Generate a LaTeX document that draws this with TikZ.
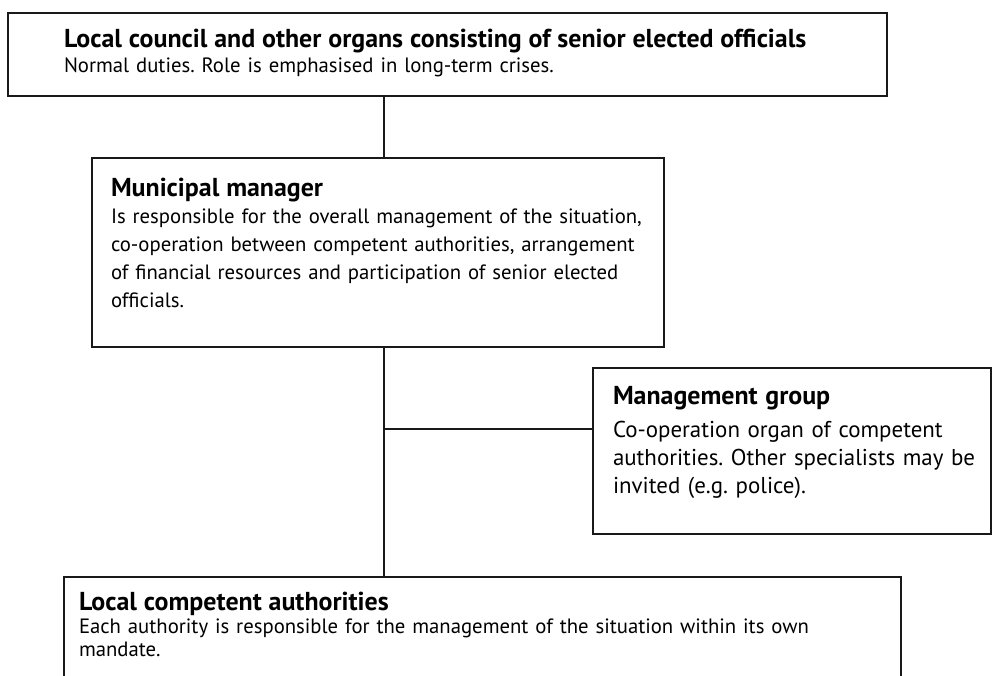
\documentclass[tikz,border=0pt]{standalone}
\usepackage{fontspec}
\setmainfont{PT Sans}
\frenchspacing
\usepackage{tikz}
\newcommand{\orgtext}[3]{
\begin{tabular}[t]{@{}l@{}}
{\fontsize{26}{26}\selectfont\bfseries #2}\\[#1]
#3
\end{tabular}
}
\tikzset{
org/.style={
  anchor=north west,
  align=left,
  draw=black!90,
  line width=2bp,
  inner ysep=0pt,
  fill=white,
  font=\fontsize{20.8}{28}\selectfont
  }
}
\tikzset{
link/.style={
  draw=black!90,
  line width=2bp
  }
}

\begin{document}
\begin{tikzpicture}[x=1bp, y=-1bp]
        \path[use as bounding box] (0,0) rectangle (992,676);
		%vertices
		\node (council) at (7, 12) [org, inner xsep=56bp, text width=767bp, text height=35bp, text depth=48bp, font=\fontsize{20.8}{21}\selectfont] {\orgtext{3bp}{Local council and other organs consisting of senior elected officials}{Normal duties. Role is emphasised in long-term crises.}};

		\node (manager) at (91, 157) [org, inner xsep=19bp, text width=534bp, text height=38bp, text depth=151bp] {\orgtext{0bp}{Municipal manager}{Is responsible for the overall management of the situation,\\ co-operation between competent authorities, arrangement\\ of financial resources and participation of senior elected\\ officials.}};

		\node (group) at (592, 367) [org, inner xsep=20bp, text width=358bp, text height=36bp, text depth=130bp, font=\fontsize{23}{28}\selectfont] {\orgtext{6bp}{Management group}{Co-operation organ of competent\\ authorities. Other specialists may be\\ invited (e.g. police).}};

		\node (local) at (63, 576) [org, inner xsep=15bp, text width=807bp, text height=33bp, text depth=130bp, font=\fontsize{20.8}{23}\selectfont] {\orgtext{1bp}{Local competent authorities}{Each authority is responsible for the management of the situation within its own\\ mandate.}};

		\coordinate (trunk) at (384, 429);
		%edges
		\draw[link] (council.south -| trunk) -- (manager.north -| trunk);
		\draw[link] (manager.south -| trunk) -- (local.north -| trunk);
		\draw[link] (trunk) -- (trunk -| group.west);
\end{tikzpicture}
\end{document}
